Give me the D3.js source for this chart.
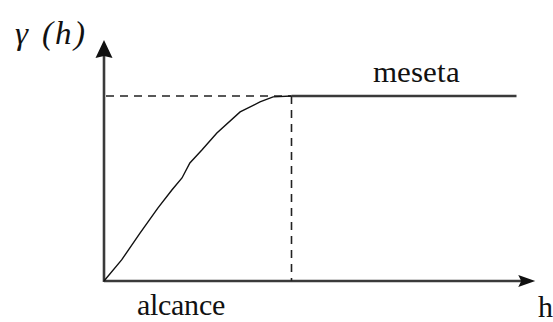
<!DOCTYPE html>
<html>
<head>
<meta charset="utf-8">
<script src="https://cdn.jsdelivr.net/npm/d3@7"></script>
<style>
  @font-face { font-family: "ChartSerif"; font-style: normal; src: local("Liberation Serif"), local("LiberationSerif"), local("Times New Roman"); }
  @font-face { font-family: "ChartSerif"; font-style: italic; src: local("Liberation Serif Italic"), local("LiberationSerif-Italic"), local("Times New Roman Italic"); }
  html, body { margin: 0; padding: 0; background: #fff; }
  svg { display: block; }
  svg text { font-family: "ChartSerif", "Liberation Serif", "Times New Roman", serif !important; }
</style>
</head>
<body>
<svg id="chart" width="553" height="322"></svg>
<script>
// Semivariogram sketch: gamma(h) rises to the sill ("meseta") at the range ("alcance").
const lagH   = [0, 0.47, 0.96, 1.44, 1.81, 2.08, 2.29, 2.61, 3.01, 3.63, 4.16, 4.51, 5];
const gammaV = [0, 0.114, 0.259, 0.395, 0.492, 0.557, 0.638, 0.708, 0.80, 0.914, 0.968, 0.995, 1];
const sill = 1;          // plateau value
const range = 5;         // lag where the plateau is reached
const plateauEnd = 11;   // last lag drawn on the plateau line
const hMax = 11.5;       // end of the h axis (arrow tip)
const gMax = 1.303;      // end of the gamma axis (arrow tip)
const axisLabels = { x: "h", gamma: "\u03b3", y: "(h)", range: "alcance", sill: "meseta" };

const svg = d3.select("#chart");
const x = d3.scaleLinear().domain([0, 12]).range([104, 554]);
const y = d3.scaleLinear().domain([0, 1]).range([281, 96]);

const axisColor = "#3a3a3a";

// axes
svg.append("line")
  .attr("x1", x(0)).attr("y1", y(0)).attr("x2", x(hMax) - 6).attr("y2", y(0))
  .attr("stroke", axisColor).attr("stroke-width", 2.6);
svg.append("line")
  .attr("x1", x(0)).attr("y1", y(0) + 1).attr("x2", x(0)).attr("y2", y(gMax) + 8)
  .attr("stroke", axisColor).attr("stroke-width", 2.6);

// arrowheads
const tx = x(hMax), ty = y(0);
svg.append("path")
  .attr("d", `M${tx},${ty} L${tx - 17},${ty - 6} L${tx - 14},${ty} L${tx - 17},${ty + 6} Z`)
  .attr("fill", "#111");
const ux = x(0), uy = y(gMax);
svg.append("path")
  .attr("d", `M${ux},${uy} L${ux + 8.5},${uy + 18} L${ux},${uy + 16} L${ux - 8.5},${uy + 18} Z`)
  .attr("fill", "#111");

// dashed guides to the sill and to the range
svg.append("line")
  .attr("x1", x(0) + 2).attr("y1", y(sill)).attr("x2", x(range)).attr("y2", y(sill))
  .attr("stroke", "#222").attr("stroke-width", 1.6).attr("stroke-dasharray", "8,6");
svg.append("line")
  .attr("x1", x(range)).attr("y1", y(sill)).attr("x2", x(range)).attr("y2", y(0))
  .attr("stroke", "#222").attr("stroke-width", 1.6).attr("stroke-dasharray", "8,6");

// plateau
svg.append("line")
  .attr("x1", x(range)).attr("y1", y(sill)).attr("x2", x(plateauEnd)).attr("y2", y(sill))
  .attr("stroke", axisColor).attr("stroke-width", 2.6);

// rising part of the curve
const pts = lagH.map((h, i) => [h, gammaV[i]]);
svg.append("path")
  .datum(pts)
  .attr("d", d3.line().x(d => x(d[0])).y(d => y(d[1])))
  .attr("fill", "none").attr("stroke", "#111").attr("stroke-width", 1.4);

// labels
const label = (lx, ly, size, s, italic) => {
  const t = svg.append("text")
    .attr("x", lx).attr("y", ly)
    .attr("font-size", size).attr("fill", "#111")
    .text(s);
  if (italic) t.attr("font-style", "italic");
  return t;
};
label(373, 82, 31, axisLabels.sill);
label(137, 315, 29.5, axisLabels.range);
label(538, 317, 30, axisLabels.x);
label(15, 44, 33, axisLabels.gamma, true);
label(42, 44, 33, axisLabels.y, true).attr("letter-spacing", 2);
</script>
</body>
</html>
